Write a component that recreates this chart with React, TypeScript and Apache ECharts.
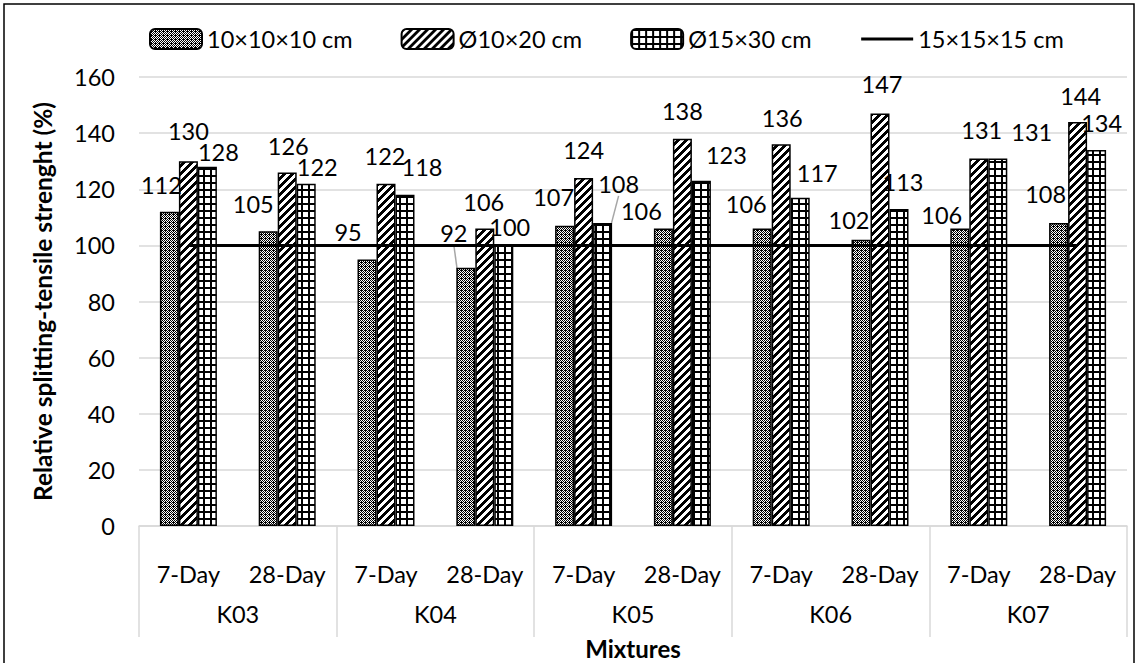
import React, { useEffect, useRef } from 'react';
import * as echarts from 'echarts';

const dayLabels = ['7-Day', '28-Day', '7-Day', '28-Day', '7-Day', '28-Day', '7-Day', '28-Day', '7-Day', '28-Day'];
const mixtures = ['K03', 'K04', 'K05', 'K06', 'K07'];
const seriesNames = ['10×10×10 cm', 'Ø10×20 cm', 'Ø15×30 cm', '15×15×15 cm'];

const cube10 = [112, 105, 95, 92, 107, 106, 106, 102, 106, 108];
const cyl10 = [130, 126, 122, 106, 124, 138, 136, 147, 131, 144];
const cyl15 = [128, 122, 118, 100, 108, 123, 117, 113, 131, 134];
const cube15 = [100, 100, 100, 100, 100, 100, 100, 100, 100, 100];

const yTicks = { min: 0, max: 160, interval: 20 };

// label shifts (px) from the default "top" position, as placed in the reference
const cube10Shift = [[-8, -10], [-15, -10], [-19, -10], [-12, -18], [-11, -12], [-22, -1], [-16, -8], [-12, -3], [-18, 3], [-13, -12]];
const cyl10Shift = [[0, -13], [1, -9], [-1, -11], [-1, -10], [0, -11], [0, -11], [1, -9], [2, -12], [3, -11], [3, -9]];
const cyl15Shift = [[11, 2], [11, 0], [17, -11], [6, -1], [16, -22], [25, -9], [17, -8], [4, -10], [34, -9], [5, -10]];
const cube10Leader = [3];
const cyl15Leader = [4];

const FONT = 'Lato, "Open Sans", sans-serif';
const FS = 23.5;

function makeTile(kind: string): HTMLCanvasElement {
  const c = document.createElement('canvas');
  const s = kind === 'dots' ? 4 : kind === 'diag' ? 8 : 7;
  c.width = s;
  c.height = s;
  const ctx = c.getContext('2d')!;
  ctx.fillStyle = '#ffffff';
  ctx.fillRect(0, 0, s, s);
  ctx.fillStyle = '#000000';
  for (let x = 0; x < s; x++) {
    for (let y = 0; y < s; y++) {
      let black = false;
      if (kind === 'dots') {
        black = (x + y) % 2 === 0 || (x === 1 && y === 2);
      } else if (kind === 'diag') {
        black = (x + y) % s < 4;
      } else {
        black = x < 2 || y < 2;
      }
      if (black) ctx.fillRect(x, y, 1, 1);
    }
  }
  return c;
}

export default function App() {
  const ref = useRef<HTMLDivElement>(null);
  useEffect(() => {
    document.body.style.margin = '0';
    const chart = echarts.init(ref.current!, null, { renderer: 'svg' });
    const pat = (k: string) => ({ image: makeTile(k), repeat: 'repeat' });

    const labelCommon = {
      show: true,
      position: 'top',
      distance: 5,
      fontSize: FS,
      fontFamily: FONT,
      color: '#000',
    };

    const barSeries = (name: string, values: number[], kind: string, shift: number[][], leaders: number[]) => ({
      name,
      type: 'bar',
      barWidth: 19,
      barGap: '0%',
      data: values.map((v, i) => (leaders.indexOf(i) >= 0 ? { value: v, labelLine: { show: true } } : v)),
      itemStyle: { color: pat(kind), borderColor: '#000', borderWidth: 1.5 },
      label: labelCommon,
      labelLine: { show: false, lineStyle: { color: '#a6a6a6', width: 1.5 } },
      labelLayout: (p: any) => ({ dx: shift[p.dataIndex][0], dy: shift[p.dataIndex][1] }),
      z: 2,
    });

    chart.setOption({
      animation: false,
      textStyle: { fontFamily: FONT },
      grid: { left: 139, right: 10, top: 77, bottom: 137, containLabel: false, outerBoundsMode: 'none' },
      legend: {
        data: seriesNames.map((n, i) =>
          i === 3 ? { name: n, itemStyle: { opacity: 0 }, lineStyle: { color: '#000', width: 3 } } : n
        ),
        left: 144,
        top: 22,
        itemWidth: 52,
        itemHeight: 20,
        itemGap: 48,
        textStyle: { fontSize: FS, fontFamily: FONT, color: '#000' },
      },
      graphic: [
        {
          type: 'rect',
          shape: { x: 4, y: 4, width: 1130, height: 700 },
          style: { fill: 'none', stroke: '#000', lineWidth: 1.5 },
          silent: true,
          z: 0,
        },
      ],
      xAxis: [
        {
          type: 'category',
          data: dayLabels,
          position: 'bottom',
          axisLine: { show: true, lineStyle: { color: '#d9d9d9', width: 1.5 } },
          axisTick: { show: false },
          axisLabel: { interval: 0, margin: 36, fontSize: FS, fontFamily: FONT, color: '#000' },
          splitLine: { show: false },
        },
        {
          type: 'category',
          data: mixtures,
          position: 'bottom',
          axisLine: { show: false },
          axisTick: { show: true, length: 111, interval: 0, lineStyle: { color: '#d9d9d9', width: 1.5 } },
          axisLabel: { interval: 0, margin: 76, fontSize: FS, fontFamily: FONT, color: '#000' },
          splitLine: { show: false },
          name: 'Mixtures',
          nameLocation: 'middle',
          nameGap: 110,
          nameTextStyle: { fontSize: 24, fontWeight: 'bold', fontFamily: FONT, color: '#000' },
        },
      ],
      yAxis: {
        type: 'value',
        min: yTicks.min,
        max: yTicks.max,
        interval: yTicks.interval,
        axisLine: { show: false },
        axisTick: { show: false },
        axisLabel: { margin: 24, fontSize: FS, fontFamily: FONT, color: '#000' },
        splitLine: { lineStyle: { color: '#d9d9d9', width: 1.5 } },
        name: 'Relative splitting-tensile strenght (%)',
        nameLocation: 'middle',
        nameGap: 84,
        nameTextStyle: { fontSize: 24.5, fontWeight: 'bold', fontFamily: FONT, color: '#000' },
      },
      series: [
        barSeries(seriesNames[0], cube10, 'dots', cube10Shift, cube10Leader),
        barSeries(seriesNames[1], cyl10, 'diag', cyl10Shift, []),
        barSeries(seriesNames[2], cyl15, 'grid', cyl15Shift, cyl15Leader),
        {
          name: seriesNames[3],
          type: 'line',
          data: cube15,
          symbol: 'none',
          lineStyle: { color: '#000', width: 3 },
          itemStyle: { color: '#000' },
          z: 5,
        },
      ],
    });
    return () => chart.dispose();
  }, []);
  return <div ref={ref} style={{ width: 1137, height: 663 }} />;
}
